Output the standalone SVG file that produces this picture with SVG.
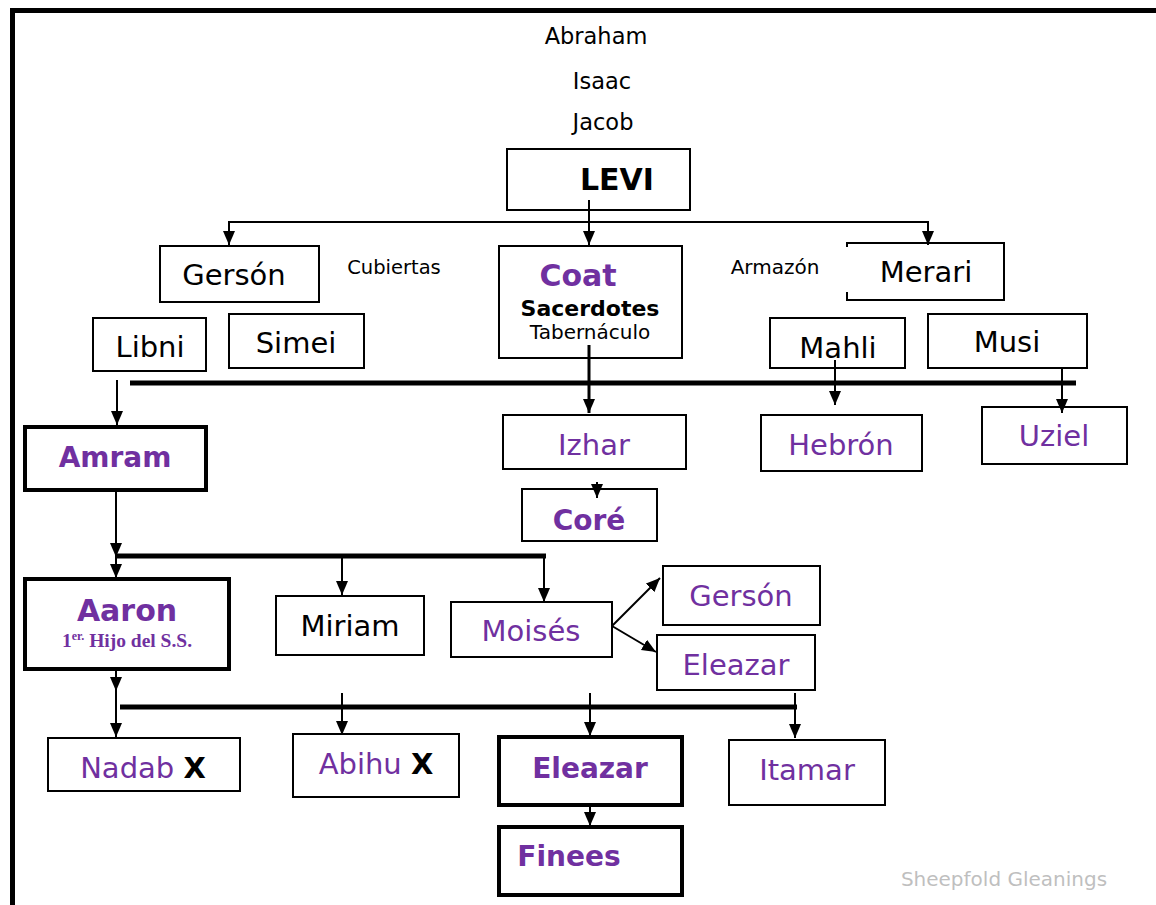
<svg xmlns="http://www.w3.org/2000/svg" width="1156" height="905" viewBox="0 0 1156 905">
<style>
.bx{fill:#fff;stroke:#000;stroke-width:2}
.bk{fill:#fff;stroke:#000;stroke-width:4}
.t{font-family:"DejaVu Sans","Verdana",sans-serif;text-anchor:middle}
.p{fill:#7030A0}
.k{fill:#000}
.b{font-weight:bold}
.c{fill:none;stroke:#000;stroke-width:2}
.cb{fill:none;stroke:#000;stroke-width:5}
</style>
<defs>
<marker id="ah" markerUnits="userSpaceOnUse" markerWidth="14" markerHeight="16" refX="14" refY="6" orient="auto">
<path d="M0,0 L14,6 L0,12 z" fill="#000"/>
</marker>
</defs>
<rect width="1156" height="905" fill="#fff"/>
<g id="frame">
<line x1="10" y1="10.5" x2="1156" y2="10.5" stroke="#000" stroke-width="5"/>
<line x1="12.5" y1="8" x2="12.5" y2="905" stroke="#000" stroke-width="5"/>
</g>
<g id="ancestors" class="t k" font-size="22.5">
<text x="596" y="44">Abraham</text>
<text x="602" y="89">Isaac</text>
<text x="603" y="130">Jacob</text>
</g>
<g id="levi"><rect class="bx" x="507" y="149" width="183" height="61"/><text class="t k b" x="617" y="190" font-size="30">LEVI</text></g>
<g id="gerson"><rect class="bx" x="160" y="246" width="159" height="56"/><text class="t k" x="234" y="285" font-size="29">Gersón</text></g>
<g id="cubiertas"><text class="t k" x="394" y="274" font-size="19.5">Cubiertas</text></g>
<g id="coat"><rect class="bx" x="499" y="246" width="183" height="112"/>
<text class="t p b" x="578" y="286" font-size="30">Coat</text>
<text class="t k b" x="590" y="316" font-size="22">Sacerdotes</text>
<text class="t k" x="590" y="339" font-size="20">Tabernáculo</text></g>
<g id="armazon"><text class="t k" x="775" y="274" font-size="20">Armazón</text></g>
<g id="merari"><rect x="847" y="243" width="157" height="57" fill="#fff"/><path d="M847,247 V243 H1004 V300 H847 V292" fill="none" stroke="#000" stroke-width="2"/><text class="t k" x="926" y="282" font-size="29">Merari</text></g>
<g id="libni"><rect class="bx" x="93" y="318" width="113" height="53"/><text class="t k" x="150" y="357" font-size="29">Libni</text></g>
<g id="simei"><rect class="bx" x="229" y="314" width="135" height="54"/><text class="t k" x="296" y="353" font-size="29">Simei</text></g>
<g id="mahli"><rect class="bx" x="770" y="318" width="135" height="50"/><text class="t k" x="838" y="358" font-size="29">Mahli</text></g>
<g id="musi"><rect class="bx" x="928" y="314" width="159" height="54"/><text class="t k" x="1007" y="352" font-size="29">Musi</text></g>
<g id="amram"><rect class="bk" x="25" y="427" width="181" height="63"/><text class="t p b" x="115" y="467" font-size="28">Amram</text></g>
<g id="izhar"><rect class="bx" x="503" y="415" width="183" height="54"/><text class="t p" x="594" y="455" font-size="29">Izhar</text></g>
<g id="hebron"><rect class="bx" x="761" y="415" width="161" height="56"/><text class="t p" x="841" y="455" font-size="29">Hebrón</text></g>
<g id="uziel"><rect class="bx" x="982" y="407" width="145" height="57"/><text class="t p" x="1054" y="446" font-size="29">Uziel</text></g>
<g id="core"><rect class="bx" x="522" y="489" width="135" height="52"/><text class="t p b" x="589" y="530" font-size="28">Coré</text></g>
<g id="aaron"><rect class="bk" x="25" y="579" width="204" height="90"/>
<text class="t p b" x="127" y="621" font-size="30">Aaron</text>
<text x="127" y="647" font-family="Liberation Serif,serif" font-weight="bold" font-size="19.5" fill="#7030A0" text-anchor="middle">1<tspan font-size="12" dy="-7">er.</tspan><tspan dy="7"> Hijo del S.S.</tspan></text></g>
<g id="miriam"><rect class="bx" x="276" y="596" width="148" height="59"/><text class="t k" x="350" y="636" font-size="29">Miriam</text></g>
<g id="moises"><rect class="bx" x="451" y="602" width="161" height="55"/><text class="t p" x="531" y="641" font-size="29">Moisés</text></g>
<g id="gerson2"><rect class="bx" x="663" y="566" width="157" height="59"/><text class="t p" x="741" y="606" font-size="29">Gersón</text></g>
<g id="eleazar2"><rect class="bx" x="657" y="635" width="158" height="55"/><text class="t p" x="736" y="675" font-size="29">Eleazar</text></g>
<g id="nadab"><rect class="bx" x="48" y="738" width="192" height="53"/><text class="t p" x="143" y="778" font-size="29">Nadab <tspan class="k b">X</tspan></text></g>
<g id="abihu"><rect class="bx" x="293" y="734" width="166" height="63"/><text class="t p" x="376" y="774" font-size="29">Abihu <tspan class="k b">X</tspan></text></g>
<g id="eleazar"><rect class="bk" x="499" y="737" width="183" height="68"/><text class="t p b" x="590" y="778" font-size="28">Eleazar</text></g>
<g id="itamar"><rect class="bx" x="729" y="740" width="156" height="65"/><text class="t p" x="807" y="780" font-size="29">Itamar</text></g>
<g id="finees"><rect class="bk" x="499" y="827" width="183" height="68"/><text class="t p b" x="569" y="866" font-size="28">Finees</text></g>
<g id="credit"><text class="t" x="1004" y="886" font-size="20" fill="#bfbfbf">Sheepfold Gleanings</text></g>
<g id="connectors">
<line class="c" x1="589" y1="200" x2="589" y2="245" marker-end="url(#ah)"/>
<line class="c" x1="229" y1="222" x2="928" y2="222"/>
<line class="c" x1="229" y1="221" x2="229" y2="245" marker-end="url(#ah)"/>
<line class="c" x1="928" y1="221" x2="928" y2="245" marker-end="url(#ah)"/>
<line class="cb" x1="130" y1="383" x2="1076" y2="383"/>
<line class="c" x1="117" y1="380" x2="117" y2="425" marker-end="url(#ah)"/>
<line stroke="#000" stroke-width="3" x1="589" y1="345" x2="589" y2="413" marker-end="url(#ah)"/>
<line class="c" x1="835" y1="360" x2="835" y2="405" marker-end="url(#ah)"/>
<line class="c" x1="1062" y1="368" x2="1062" y2="413" marker-end="url(#ah)"/>
<line class="c" x1="597" y1="482" x2="597" y2="498" marker-end="url(#ah)"/>
<line class="c" x1="116" y1="490" x2="116" y2="557" marker-end="url(#ah)"/>
<line class="cb" x1="116" y1="556" x2="546" y2="556"/>
<line class="c" x1="116" y1="556" x2="116" y2="578" marker-end="url(#ah)"/>
<line class="c" x1="342" y1="556" x2="342" y2="595" marker-end="url(#ah)"/>
<line class="c" x1="544" y1="556" x2="544" y2="602" marker-end="url(#ah)"/>
<line class="c" x1="612" y1="626" x2="660" y2="578" marker-end="url(#ah)"/>
<line class="c" x1="612" y1="626" x2="656" y2="652" marker-end="url(#ah)"/>
<line class="c" x1="116" y1="669" x2="116" y2="691" marker-end="url(#ah)"/>
<line class="cb" x1="120" y1="707" x2="797" y2="707"/>
<line class="c" x1="116" y1="691" x2="116" y2="737" marker-end="url(#ah)"/>
<line class="c" x1="342" y1="693" x2="342" y2="735" marker-end="url(#ah)"/>
<line class="c" x1="590" y1="693" x2="590" y2="736" marker-end="url(#ah)"/>
<line class="c" x1="795" y1="693" x2="795" y2="738" marker-end="url(#ah)"/>
<line class="c" x1="590" y1="805" x2="590" y2="826" marker-end="url(#ah)"/>
</g>
</svg>
